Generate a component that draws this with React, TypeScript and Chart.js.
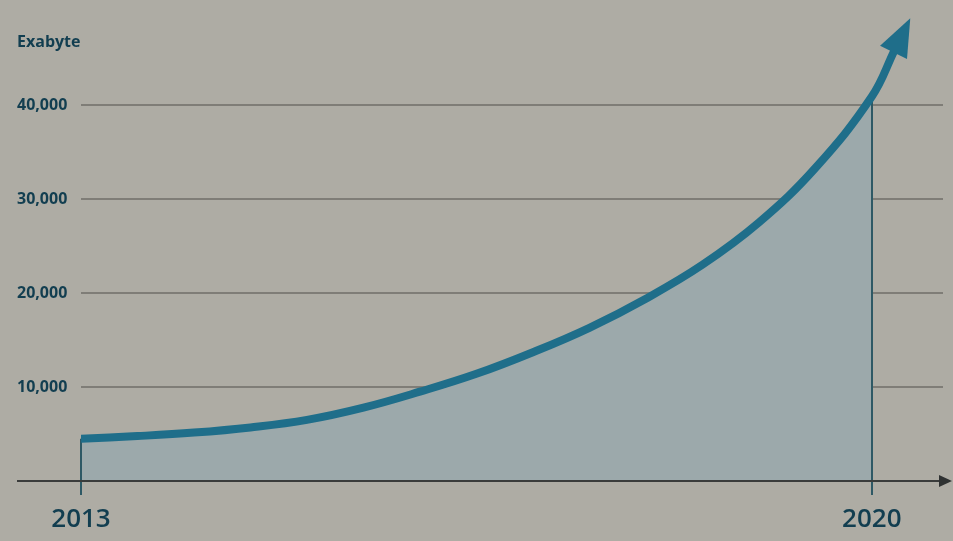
import React, { useEffect, useRef } from "react";
import { Chart, registerables } from "chart.js";

Chart.register(...registerables);

const years = [2013, 2013.5, 2014, 2014.5, 2015, 2015.5, 2016, 2016.5, 2017, 2017.5, 2018, 2018.5, 2019, 2019.5, 2020];
const exabytes = [4500, 4780, 5150, 5700, 6500, 7800, 9500, 11400, 13700, 16300, 19400, 23000, 27500, 33300, 40900];
const arrowYear = 2020.2;
const arrowValue = 45800;
const yTickValues = [10000, 20000, 30000, 40000];
const xTickValues = [2013, 2020];
const unitLabel = "Exabyte";

const BG = "#aeaca4";
const FILL = "#9ca9ab";
const LINE = "#1f6e8a";
const TEXT = "#123e50";
const GRID = "#7f7d77";

export default function App() {
  const ref = useRef<HTMLCanvasElement | null>(null);

  useEffect(() => {
    const canvas = ref.current;
    if (!canvas) return;
    document.body.style.margin = "0";

    const lineData = years.map((y, i) => ({ x: y, y: exabytes[i] }));
    lineData.push({ x: arrowYear, y: arrowValue });
    const valueAt = (yr: number) => exabytes[years.indexOf(yr)];

    const bgPlugin = {
      id: "bg",
      beforeDraw(chart: any) {
        const c = chart.ctx;
        c.save();
        c.fillStyle = BG;
        c.fillRect(0, 0, chart.width, chart.height);
        c.restore();
      },
    };

    const extras = {
      id: "extras",
      beforeDatasetsDraw(chart: any) {
        const xs = chart.scales.x;
        const a = chart.chartArea;
        const c = chart.ctx;
        c.save();
        c.beginPath();
        c.rect(a.left, a.top, xs.getPixelForValue(xTickValues[1]) - a.left, a.bottom - a.top);
        c.clip();
      },
      afterDatasetDraw(chart: any, args: any) {
        if (args.index === 1) {
          const c = chart.ctx;
          c.restore();
          const xs = chart.scales.x;
          const ys = chart.scales.y;
          const y0 = ys.getPixelForValue(0);
          c.save();
          c.strokeStyle = "#2e5965";
          c.lineWidth = 2;
          xTickValues.forEach((yr) => {
            const px = Math.round(xs.getPixelForValue(yr));
            c.beginPath();
            c.moveTo(px, y0 + 14);
            c.lineTo(px, ys.getPixelForValue(valueAt(yr)));
            c.stroke();
          });
          c.restore();
        }
      },
      afterDatasetsDraw(chart: any) {
        const c = chart.ctx;
        const ys = chart.scales.y;
        const y0 = ys.getPixelForValue(0);
        c.save();
        c.strokeStyle = "#3a3c3b";
        c.lineWidth = 2;
        c.beginPath();
        c.moveTo(ys.left, y0);
        c.lineTo(chart.width - 10, y0);
        c.stroke();
        c.fillStyle = "#2f3232";
        c.beginPath();
        c.moveTo(chart.width - 1, y0);
        c.lineTo(chart.width - 14, y0 - 6);
        c.lineTo(chart.width - 14, y0 + 6);
        c.closePath();
        c.fill();
        c.restore();

        const meta = chart.getDatasetMeta(0);
        const pts = meta.data;
        const last = pts[pts.length - 1];
        const prev = pts[pts.length - 2];
        let dx = last.x - (last.cp1x ?? prev.x);
        let dy = last.y - (last.cp1y ?? prev.y);
        if (!isFinite(dx) || !isFinite(dy) || (dx === 0 && dy === 0)) {
          dx = last.x - prev.x;
          dy = last.y - prev.y;
        }
        const len = Math.hypot(dx, dy);
        const ux = dx / len, uy = dy / len;
        const bx = last.x - ux * 2, by = last.y - uy * 2;
        c.save();
        c.fillStyle = LINE;
        c.beginPath();
        c.moveTo(last.x + ux * 36, last.y + uy * 36);
        c.lineTo(bx - uy * 15, by + ux * 15);
        c.lineTo(bx + uy * 15, by - ux * 15);
        c.closePath();
        c.fill();
        c.restore();

        c.save();
        c.fillStyle = TEXT;
        c.font = "bold 16px 'Open Sans'";
        c.textAlign = "left";
        c.textBaseline = "middle";
        c.fillText(unitLabel, ys.left, chart.chartArea.top + 31);
        c.restore();
      },
    };

    const chart = new Chart(canvas, {
      type: "line",
      data: {
        datasets: [
          {
            data: lineData,
            borderColor: LINE,
            borderWidth: 8,
            borderCapStyle: "butt",
            pointRadius: 0,
            tension: 0.4,
            fill: false,
          },
          {
            data: lineData,
            borderWidth: 0,
            borderColor: "rgba(0,0,0,0)",
            backgroundColor: FILL,
            pointRadius: 0,
            tension: 0.4,
            fill: "origin",
          },
        ],
      },
      options: {
        responsive: false,
        animation: false,
        events: [],
        layout: { padding: { left: 17, top: 11, right: 10, bottom: 0 } },
        plugins: { legend: { display: false }, tooltip: { enabled: false } },
        scales: {
          x: {
            type: "linear",
            min: 2013,
            max: 2020.63,
            grid: { display: false },
            border: { display: false },
            afterBuildTicks: (scale: any) => {
              scale.ticks = xTickValues.map((v) => ({ value: v }));
            },
            afterFit: (scale: any) => {
              scale.height = 60;
            },
            ticks: {
              autoSkip: false,
              maxRotation: 0,
              padding: 15,
              color: TEXT,
              font: { family: "'Open Sans'", size: 26, weight: "600" },
              callback: (v: any) => String(v),
            },
          },
          y: {
            type: "linear",
            min: 0,
            max: 50000,
            afterBuildTicks: (scale: any) => {
              scale.ticks = [0, ...yTickValues, 50000].map((v) => ({ value: v }));
            },
            afterFit: (scale: any) => {
              scale.width = 64;
            },
            border: { display: false },
            grid: {
              drawTicks: false,
              lineWidth: 2,
              color: (ctx: any) =>
                yTickValues.includes(ctx.tick?.value) ? GRID : "rgba(0,0,0,0)",
            },
            ticks: {
              crossAlign: "far",
              padding: 0,
              color: TEXT,
              font: { family: "'Open Sans'", size: 16, weight: "bold" },
              callback: (v: any) =>
                yTickValues.includes(v) ? Number(v).toLocaleString("en-US") : "",
            },
          },
        },
      },
      plugins: [bgPlugin, extras],
    } as any);

    return () => chart.destroy();
  }, []);

  return (
    <canvas
      ref={ref}
      width={953}
      height={541}
      style={{ display: "block", position: "fixed", left: 0, top: 0 }}
    />
  );
}
